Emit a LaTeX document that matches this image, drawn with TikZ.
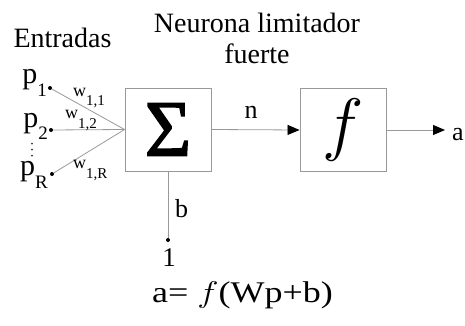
\RequirePackage{fix-cm}
\documentclass[tikz,border=0pt]{standalone}
\usepackage{fontspec}
\setmainfont{Liberation Serif}
\newfontfamily\sigmafont[FakeBold=1.8]{Liberation Serif}
\usetikzlibrary{arrows.meta}
\definecolor{linegray}{gray}{0.6}
\begin{document}
\begin{tikzpicture}[x=1pt,y=-1pt,
  box/.style={draw=linegray, line width=0.9pt, minimum width=86pt, minimum height=83pt, inner sep=0pt},
  wire/.style={draw=linegray, line width=0.8pt},
  arr/.style={wire, -{Triangle[length=12pt,width=10pt,fill=black,color=black]}},
  inpt/.style={circle, fill=black, inner sep=0pt, minimum size=4pt},
  vdot/.style={circle, fill=black!80, inner sep=0pt, minimum size=2pt},
  txt/.style={inner sep=0pt},
  big/.style={font=\fontsize{28}{31}\selectfont},
  plab/.style={txt, anchor=base east, font=\fontsize{30}{30}\selectfont},
  wlab/.style={txt, anchor=base west, font=\fontsize{18}{18}\selectfont},
  slab/.style={txt, font=\fontsize{26}{26}\selectfont},
]
\useasboundingbox (0,0) rectangle (465,326);
\node[txt, big, anchor=base] (ent) at (62.5,48) {Entradas};
\node[txt, big, align=center, anchor=north] (title) at (257,13) {Neurona limitador\\fuerte};

\node[box] (sum) at (168,129.5) {\sigmafont\fontsize{80}{80}\selectfont Σ};
\node[box] (fbox) at (343,130) {\fontsize{70}{70}\selectfont$f$};

\node[inpt] (p1) at (50,88) {};
\node[inpt] (p2) at (51,130) {};
\node[inpt] (pR) at (52,174) {};
\draw[wire] (p1) -- (sum.west);
\draw[wire] (p2) -- (sum.west);
\draw[wire] (pR) -- (sum.west);

\node[plab] (lp1) at (47,84) {p\raisebox{-12.5pt}{\fontsize{19}{19}\selectfont 1}};
\node[plab] (lp2) at (48,127) {p\raisebox{-12pt}{\fontsize{19}{19}\selectfont 2}};
\node[plab] (lpR) at (48,175) {p\raisebox{-13pt}{\fontsize{19}{19}\selectfont R}};
\node[vdot] (vd1) at (32,143.5) {};
\node[vdot] (vd2) at (32,149.5) {};
\node[vdot] (vd3) at (32,155.5) {};

\node[wlab] (w11) at (73,97) {w\raisebox{-9pt}{\fontsize{15}{15}\selectfont 1,1}};
\node[wlab] (w12) at (65,118) {w\raisebox{-10pt}{\fontsize{15}{15}\selectfont 1,2}};
\node[wlab] (w1R) at (73,168) {w\raisebox{-10pt}{\fontsize{15}{15}\selectfont 1,R}};

\draw[arr] (sum.east) -- (fbox.west);
\node[slab, anchor=base] (nl) at (251,118) {n};

\coordinate (aend) at (445,130);
\draw[arr] (fbox.east) -- (aend);
\node[slab, anchor=base west] (al) at (452,140) {a};

\node[inpt] (one) at (168,240) {};
\draw[wire] (sum.south) -- (one);
\node[slab, anchor=base] (bl) at (181.5,217) {b};
\node[txt, anchor=north, font=\fontsize{27}{27}\selectfont] (onel) at (169,248) {1};

\node[txt, anchor=base west, font=\fontsize{30}{30}\selectfont] (eq) at (152,302) {\scalebox{1.2}[1]{a= $f$(Wp+b)}};
\end{tikzpicture}
\end{document}
